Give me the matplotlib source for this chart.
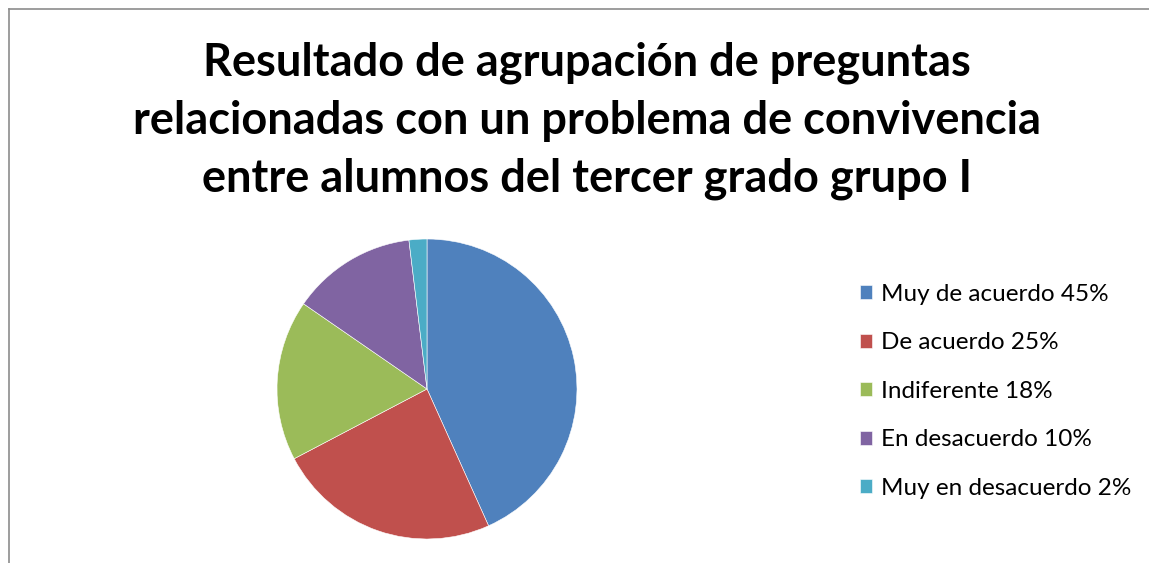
import matplotlib
matplotlib.use("Agg")
import matplotlib.pyplot as plt
from matplotlib.lines import Line2D

# data
labels = [
    "Muy de acuerdo 45%",
    "De acuerdo 25%",
    "Indiferente 18%",
    "En desacuerdo 10%",
    "Muy en desacuerdo 2%",
]
values = [45, 25, 18, 14, 2]
colors = ["#4F81BD", "#C0504D", "#9BBB59", "#8064A2", "#4BACC6"]

title_lines = [
    "Resultado de agrupación de preguntas",
    "relacionadas con un problema de convivencia",
    "entre alumnos del tercer grado grupo I",
]

W, H = 1149, 563
plt.rcParams["font.family"] = ["Lato", "DejaVu Sans"]

fig = plt.figure(figsize=(W / 100, H / 100), dpi=100)
fig.patch.set_facecolor("white")

# partial chart frame (left and top edges visible)
fig.add_artist(Line2D([8.5 / W, 8.5 / W], [0, 1 - 9 / H], transform=fig.transFigure,
                      color="#8c8c8c", lw=1.2))
fig.add_artist(Line2D([8.5 / W, 1], [1 - 9 / H, 1 - 9 / H], transform=fig.transFigure,
                      color="#8c8c8c", lw=1.2))

# pie
ax = fig.add_axes([277 / W, 24 / H, 300 / W, 300 / H])
wedges, _ = ax.pie(values, colors=colors, startangle=90, counterclock=False,
                   radius=1.0, wedgeprops=dict(edgecolor="white", linewidth=0.4))
ax.set_xlim(-1.0, 1.0)
ax.set_ylim(-1.0, 1.0)
ax.set_aspect("equal")
ax.axis("off")

# title, three centered lines
baselines = [76, 134, 191]
for line, yb in zip(title_lines, baselines):
    fig.text(587 / W, 1 - yb / H, line, ha="center", va="baseline",
             fontsize=32.5, fontweight="bold", color="black")

leg = fig.legend(wedges, labels, loc="upper left", bbox_to_anchor=(860 / W, 1 - 284 / H),
                 frameon=False, fontsize=17.5, handlelength=0.5, handleheight=0.5,
                 handletextpad=0.37, labelspacing=1.13, borderpad=0, borderaxespad=0)

fig.savefig("out.png", dpi=100, facecolor="white")
